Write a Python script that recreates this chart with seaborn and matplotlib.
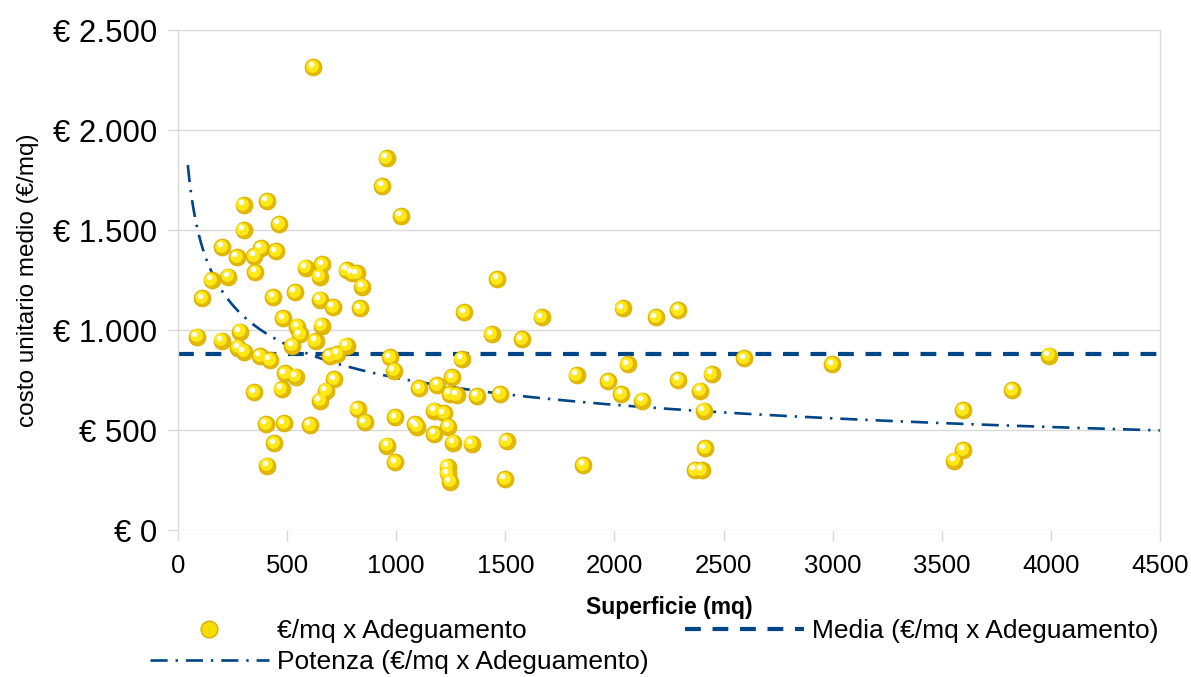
import numpy as np
import pandas as pd
import matplotlib
matplotlib.use("Agg")
import matplotlib.pyplot as plt
import matplotlib.transforms as mtransforms
from matplotlib import font_manager
from matplotlib.lines import Line2D
from matplotlib.ticker import FuncFormatter, MultipleLocator
import seaborn as sns

# Superficie (mq) and cost per square metre (EUR/mq) for each intervention
superficie = [
    620, 956, 936, 1022, 301, 408, 463, 301, 203, 380,
    448, 270, 350, 354, 230, 154, 585, 661, 649, 773,
    797, 818, 845, 536, 437, 111, 651, 709, 834, 483,
    658, 547, 559, 284, 86, 200, 631, 773, 524, 276,
    302, 376, 422, 696, 730, 971, 1300, 1312, 490, 539,
    990, 716, 475, 350, 678, 651, 1106, 1189, 1257, 1246,
    1277, 823, 857, 996, 1086, 1097, 1175, 1219, 1239, 1175,
    1262, 1345, 402, 486, 605, 441, 409, 959, 996, 1235,
    1235, 1246, 1463, 1666, 2037, 2190, 2292, 1437, 1575, 2060,
    1827, 1972, 2032, 2128, 2292, 2445, 2394, 2410, 1475, 1369,
    1506, 2415, 1857, 2369, 2399, 1498, 2595, 2998, 3991, 3823,
    3598, 3598, 3557,
]
costo_mq = [
    2315, 1860, 1720, 1570, 1625, 1645, 1530, 1500, 1415, 1410,
    1393, 1365, 1370, 1290, 1267, 1250, 1312, 1328, 1267, 1300,
    1285, 1283, 1217, 1190, 1165, 1158, 1152, 1115, 1108, 1058,
    1022, 1017, 978, 992, 967, 947, 945, 922, 922, 912,
    892, 870, 850, 870, 880, 863, 855, 1088, 783, 767,
    797, 753, 705, 688, 697, 647, 708, 725, 763, 680,
    675, 605, 538, 563, 530, 517, 597, 583, 517, 480,
    437, 432, 530, 533, 525, 433, 322, 422, 338, 317,
    283, 242, 1255, 1063, 1108, 1063, 1100, 978, 953, 828,
    775, 745, 680, 647, 750, 780, 697, 597, 680, 670,
    445, 408, 325, 300, 300, 255, 858, 828, 872, 700,
    600, 400, 347,
]

# Power trend line  y = a * x^b
power_a = 5339.0
power_b = -0.282
trend_start = 45

x_ticks = [0, 500, 1000, 1500, 2000, 2500, 3000, 3500, 4000, 4500]
y_ticks = [0, 500, 1000, 1500, 2000, 2500]

series_label = "€/mq x Adeguamento"
media_label = "Media (€/mq x Adeguamento)"
power_label = "Potenza (€/mq x Adeguamento)"
x_title = "Superficie (mq)"
y_title = "costo unitario medio (€/mq)"

df = pd.DataFrame({"superficie": superficie, "costo": costo_mq})
media = float(np.mean(costo_mq))

sns.set_theme(style="white")
installed = {f.name for f in font_manager.fontManager.ttflist}
base_font = "Liberation Sans" if "Liberation Sans" in installed else "DejaVu Sans"
plt.rcParams["font.family"] = [base_font, "DejaVu Sans"]
plt.rcParams["text.color"] = "black"

blue = "#004586"
grid_c = "#d9d9d9"

fig = plt.figure(figsize=(11.91, 6.77), dpi=100)
ax = fig.add_axes([178 / 1191, 1 - 530 / 677, 982 / 1191, 500 / 677])

ax.set_xlim(0, 4500)
ax.set_ylim(0, 2500)

# horizontal grid
ax.yaxis.set_major_locator(MultipleLocator(500))
ax.xaxis.set_major_locator(MultipleLocator(500))
ax.grid(axis="y", color=grid_c, linewidth=1.0)
ax.grid(axis="x", visible=False)
ax.set_axisbelow(True)

for side in ["top", "bottom"]:
    ax.spines[side].set_visible(False)
for side in ["left", "right"]:
    ax.spines[side].set_color(grid_c)
    ax.spines[side].set_linewidth(1.0)

# mean line
ax.plot([0, 4500], [media, media], color=blue, linewidth=3.0,
        dashes=(3.8, 2.8), solid_capstyle="butt", dash_capstyle="butt", zorder=2)

# power trend
xs = np.linspace(trend_start, 4500, 600)
ax.plot(xs, power_a * xs ** power_b, color=blue, linewidth=1.9,
        dashes=(6.5, 3.0, 0.9, 3.0), zorder=2)

# scatter drawn as shaded yellow balls
sns.scatterplot(data=df, x="superficie", y="costo", ax=ax, s=150,
                color="#e2b800", edgecolor="#d8ae00", linewidth=0.5,
                zorder=3, legend=False)
off1 = mtransforms.offset_copy(ax.transData, fig=fig, x=-1.2, y=1.2, units="dots")
ax.scatter(df["superficie"], df["costo"], s=85, color="#ffe817",
           linewidths=0, transform=off1, zorder=4)
off2 = mtransforms.offset_copy(ax.transData, fig=fig, x=-2.6, y=2.6, units="dots")
ax.scatter(df["superficie"], df["costo"], s=16, color="#fffdf0",
           linewidths=0, transform=off2, zorder=5)

ax.yaxis.set_major_formatter(FuncFormatter(
    lambda v, p: "€ " + f"{int(v):,}".replace(",", ".")))
ax.set_xticks(x_ticks)
ax.set_yticks(y_ticks)
ax.tick_params(axis="y", which="major", length=7, width=1, color=grid_c,
               direction="out", left=True, labelsize=22.5, pad=8, labelcolor="black")
ax.tick_params(axis="x", which="major", length=8, width=1, color=grid_c,
               direction="out", bottom=True, labelsize=18.5, pad=9, labelcolor="black")

ax.set_xlabel(x_title, fontsize=16.5, fontweight="bold", color="black", labelpad=13)
ax.set_ylabel(y_title, fontsize=17.5, color="black", labelpad=10)

ball = Line2D([], [], linestyle="none", marker="o", markersize=12,
              markerfacecolor="#f6dc00", markeredgecolor="#d8ae00")
power_h = Line2D([], [], color=blue, linewidth=1.9, dashes=(6.5, 3.0, 0.9, 3.0))
media_h = Line2D([], [], color=blue, linewidth=3.0, dashes=(3.8, 2.8))
fig.legend([ball, power_h, media_h], [series_label, power_label, media_label],
           ncol=2, loc="upper left", bbox_to_anchor=(150 / 1191, 1 - 619 / 677),
           frameon=False, fontsize=19, handlelength=4.5, handletextpad=0.3,
           columnspacing=1.4, labelspacing=0.28, borderpad=0, borderaxespad=0,
           labelcolor="black")

fig.savefig("out.png", dpi=100)
